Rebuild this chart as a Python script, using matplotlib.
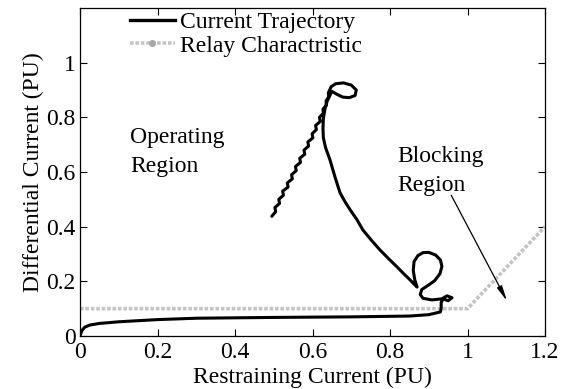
import matplotlib
matplotlib.use("Agg")
import matplotlib.pyplot as plt
from matplotlib.lines import Line2D

plt.rcParams['font.family'] = ['Liberation Serif', 'DejaVu Serif']

# Current trajectory (restraining current, differential current) in PU
traj_x = [0.495, 0.505, 0.503, 0.515, 0.513, 0.525, 0.523, 0.537, 0.535, 0.548, 0.546,
          0.558, 0.556, 0.569, 0.567, 0.580, 0.578, 0.590, 0.588, 0.601, 0.599, 0.610,
          0.608, 0.620, 0.618, 0.628, 0.627, 0.636, 0.635, 0.642, 0.641, 0.646,
          0.648, 0.660, 0.680, 0.700, 0.713, 0.710, 0.695, 0.678, 0.662, 0.650,
          0.638, 0.632, 0.628, 0.627, 0.628, 0.634, 0.645, 0.658, 0.671, 0.684, 0.697,
          0.715, 0.730, 0.751, 0.774, 0.797, 0.818, 0.836, 0.852, 0.862, 0.870,
          0.864, 0.860, 0.862, 0.872, 0.885, 0.900, 0.918, 0.930, 0.934, 0.929,
          0.915, 0.898, 0.882, 0.878, 0.885, 0.908, 0.934,
          0.947, 0.960, 0.950, 0.937, 0.932, 0.932,
          0.930, 0.900, 0.850, 0.700, 0.500, 0.300, 0.200, 0.100, 0.050, 0.025, 0.012, 0.005, 0.0]
traj_y = [0.438, 0.455, 0.470, 0.485, 0.500, 0.515, 0.530, 0.545, 0.560, 0.575, 0.590,
          0.605, 0.620, 0.635, 0.650, 0.665, 0.680, 0.695, 0.710, 0.725, 0.740, 0.755,
          0.770, 0.785, 0.800, 0.815, 0.830, 0.845, 0.860, 0.875, 0.890, 0.905,
          0.912, 0.923, 0.926, 0.918, 0.900, 0.880, 0.872, 0.874, 0.885, 0.895,
          0.860, 0.830, 0.795, 0.760, 0.725, 0.688, 0.645, 0.582, 0.524, 0.491, 0.462,
          0.425, 0.388, 0.352, 0.315, 0.282, 0.253, 0.227, 0.205, 0.190, 0.179,
          0.205, 0.240, 0.272, 0.294, 0.305, 0.306, 0.296, 0.278, 0.255, 0.228,
          0.202, 0.185, 0.170, 0.152, 0.138, 0.132, 0.136,
          0.147, 0.140, 0.129, 0.136, 0.122, 0.100,
          0.088, 0.078, 0.073, 0.070, 0.068, 0.065, 0.060, 0.052, 0.046, 0.040, 0.032, 0.020, 0.0]

# Relay characteristic
relay_x = [0.0, 1.0, 1.2]
relay_y = [0.1, 0.1, 0.4]

xticks = [0, 0.2, 0.4, 0.6, 0.8, 1, 1.2]
xticklabels = ['0', '0.2', '0.4', '0.6', '0.8', '1', '1.2']
yticks = [0, 0.2, 0.4, 0.6, 0.8, 1]
yticklabels = ['0', '0.2', '0.4', '0.6', '0.8', '1']

fig = plt.figure(figsize=(5.65, 3.89), dpi=100)
ax = fig.add_axes([80/565, 53/389, 465/565, 328/389])

relay_color = '#c4c4c4'
ax.plot(relay_x, relay_y, color=relay_color, lw=2.6, ls=(0, (1.0, 0.5)), zorder=2)
ax.plot(traj_x, traj_y, color='black', lw=2.2, solid_joinstyle='round',
        solid_capstyle='round', zorder=3)

ax.set_xlim(0, 1.2)
ax.set_ylim(0, 1.2)
ax.set_xticks(xticks)
ax.set_xticklabels(xticklabels)
ax.set_yticks(yticks)
ax.set_yticklabels(yticklabels)
ax.tick_params(direction='in', length=5, width=0.8, top=True, right=True,
               labelsize=17)
ax.tick_params(axis='x', pad=4)
ax.tick_params(axis='y', pad=3)
for s in ax.spines.values():
    s.set_linewidth(0.9)

ax.set_xlabel('Restraining Current (PU)', fontsize=17, labelpad=0)
ax.xaxis.set_label_coords(0.5, -0.143)
ax.xaxis.label.set_va('baseline')
ax.set_ylabel('Differential Current (PU)', fontsize=17, labelpad=2)

ax.text(0.13, 0.725, 'Operating', fontsize=17, va='center', ha='left')
ax.text(0.13, 0.62, 'Region', fontsize=17, va='center', ha='left')
ax.text(0.82, 0.655, 'Blocking', fontsize=17, va='center', ha='left')
ax.text(0.82, 0.55, 'Region', fontsize=17, va='center', ha='left')

ax.annotate('', xy=(1.102, 0.128), xytext=(0.958, 0.515),
            arrowprops=dict(arrowstyle='-|>,head_length=0.9,head_width=0.16',
                            color='black', lw=0.9, shrinkA=0, shrinkB=0))

h1 = Line2D([], [], color='black', lw=2.4)
h2 = Line2D([], [], color=relay_color, lw=2.6, ls=(0, (1.0, 0.5)), marker='o',
            markersize=4, markerfacecolor='#a8a8a8', markeredgecolor='#a8a8a8')
ax.legend([h1, h2], ['Current Trajectory', 'Relay Charactristic'], loc='upper left',
          bbox_to_anchor=(50/465, 0.99), frameon=False, fontsize=17, numpoints=1,
          handlelength=1.9, handletextpad=0.2, borderpad=0, borderaxespad=0,
          labelspacing=0.1)

fig.savefig('out.png', dpi=100)
